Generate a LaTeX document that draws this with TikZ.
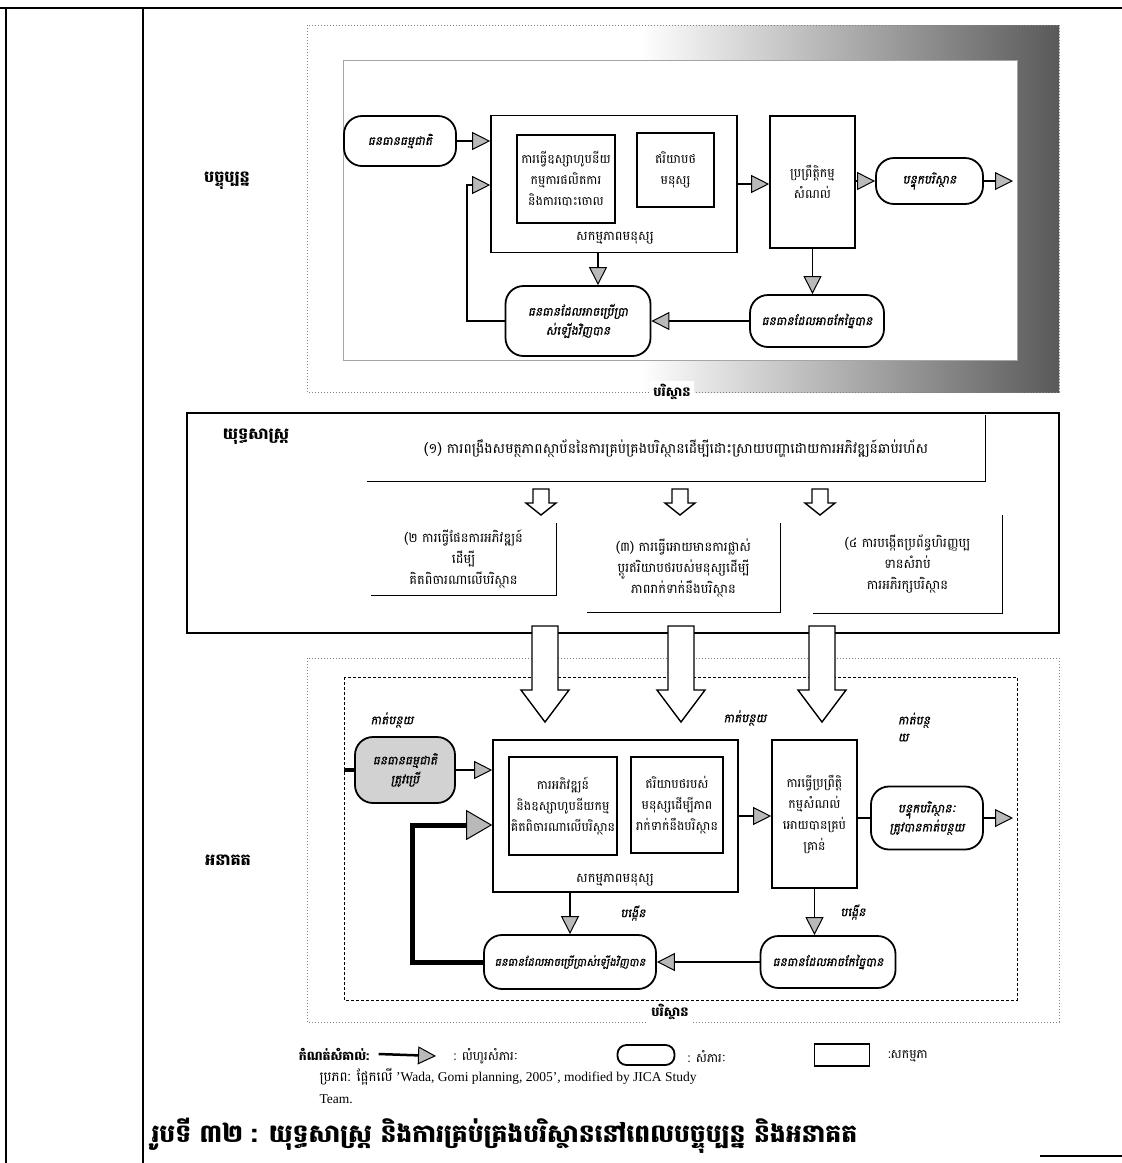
\documentclass[tikz,border=0pt]{standalone}
\usepackage{fontspec}
\setmainfont{Liberation Serif}
\newfontfamily\km[Script=Khmer]{Battambang}
\newfontfamily\kmsl[Script=Khmer,FakeSlant=0.2,FakeBold=0.8]{Battambang}
\usetikzlibrary{arrows.meta, positioning}

\tikzset{
  box/.style={draw, line width=1.6pt, inner sep=2pt, align=center, font=\km\fontsize{12.5}{21}\selectfont},
  res/.style={draw, line width=1.8pt, rounded corners=18pt, inner sep=2pt, align=center, font=\kmsl\fontsize{12}{19}\selectfont},
  flow/.style={line width=1.8pt, -{Triangle[fill=gray!55, length=18pt, width=18pt, line width=1pt]}},
  fbflow/.style={line width=5pt, -{Triangle[fill=gray!55, length=26pt, width=30pt, line width=1pt]}},
  hollowline/.style={line width=1.4pt, fill=white, line join=miter},
  lbl/.style={font=\km\bfseries\fontsize{16}{19}\selectfont},
  tag/.style={font=\kmsl\fontsize{12}{17}\selectfont, align=left},
  envlbl/.style={fill=white, inner sep=3pt, font=\km\bfseries\fontsize{13}{16}\selectfont},
  txt/.style={font=\km\fontsize{13}{21}\selectfont, align=center}
}
% x, top, bottom, half shaft, half head, head length
\newcommand{\blockdown}[6]{%
  \draw[hollowline] (#1-#4,#2) -- (#1-#4,#3-#6) -- (#1-#5,#3-#6) -- (#1,#3)
    -- (#1+#5,#3-#6) -- (#1+#4,#3-#6) -- (#1+#4,#2) -- cycle;}

\begin{document}
\begin{tikzpicture}[x=1pt, y=-1pt]
  \useasboundingbox (0,0) rectangle (1122,1163);
  \draw[line width=1.5pt] (0,8) -- (1122,8);
  \draw[line width=2pt] (6,8) -- (6,1163);
  \draw[line width=2pt] (143,8) -- (143,1163);
  \draw[line width=1.2pt] (1040,1156) -- (1122,1156);

  \node[lbl] (present) at (227,181) {បច្ចុប្បន្ន};
  \node[lbl] (strategy) at (256,437) {យុទ្ធសាស្ត្រ};
  \node[lbl] (future) at (228,860) {អនាគត};

  \foreach \a/\b in {{307,25}/{1059,60}, {307,360}/{1059,392}, {1017,25}/{1059,392}} {
    \begin{scope}
      \clip (\a) rectangle (\b);
      \shade[left color=white, right color=black!65] (640,25) rectangle (1059,392);
    \end{scope}
  }
  \draw[gray, dotted, line width=1pt] (307,25) rectangle (1059,392);
  \draw[gray!70, line width=0.8pt] (343,60) rectangle (1017,360);

  \node[res, minimum width=112, minimum height=50] (nat) at (400,141) {ធនធានធម្មជាតិ};
  \node[box, minimum width=246, minimum height=137] (act) at (614,184) {};
  \node[box, minimum width=98, minimum height=88] (mfg) at (566,179) {ការធ្វើឧស្សាហូបនីយ\\កម្មការផលិតការ\\និងការបោះចោល};
  \node[box, minimum width=77, minimum height=74] (hab) at (675.5,170) {ឥរិយាបថ\\មនុស្ស};
  \node[txt] (actlbl) at (615,238) {សកម្មភាពមនុស្ស};
  \node[box, minimum width=85, minimum height=132] (trt) at (812.5,182) {ប្រព្រឹត្តិកម្ម\\សំណល់};
  \node[res, minimum width=107, minimum height=46] (load) at (929.5,181) {បន្ទុកបរិស្ថាន};
  \coordinate (exit) at (1013,181);
  \node[res, minimum width=145, minimum height=70] (reuse) at (578,321) {ធនធានដែលអាចប្រើប្រា\\ស់ឡើងវិញបាន};
  \node[res, minimum width=134, minimum height=52] (recy) at (817,321) {ធនធានដែលអាចកែច្នៃបាន};
  \node[envlbl] (env) at (672,392) {បរិស្ថាន};
  \coordinate (loop) at (467,185);
  \coordinate (rin) at ([xshift=20pt]reuse.north);

  \draw[flow] (nat.east) -- (nat.east -| act.west);
  \draw[flow] (act.east) -- (act.east -| trt.west);
  \draw[flow] (trt.east |- load.west) -- (load.west);
  \draw[flow] (load.east) -- (exit);
  \draw[flow] (rin |- act.south) -- (rin);
  \draw[flow] (trt.south) -- (trt.south |- recy.north);
  \draw[flow] (recy.west) -- (reuse.east);
  \draw[flow] (reuse.west) -| (loop) -- (loop -| act.west);

  \draw[line width=1.6pt] (187,413) rectangle (1059,633);
  \node[txt, minimum width=618, minimum height=66, font=\km\fontsize{14}{21}\selectfont] (aim1) at (676,448) {(១) ការពង្រឹងសមត្ថភាពស្ថាប័ននៃការគ្រប់គ្រងបរិស្ថានដើម្បីដោះស្រាយបញ្ហាដោយការអភិវឌ្ឍន៍ឆាប់រហ័ស};
  \node[txt, minimum width=185, minimum height=72] (aim2) at (463.5,559) {(២ ការធ្វើផែនការអភិវឌ្ឍន៍\\ដើម្បី\\គិតពិចារណាលើបរិស្ថាន};
  \node[txt, minimum width=193, minimum height=89] (aim3) at (683.5,567.5) {(៣) ការធ្វើអោយមានការផ្លាស់\\ប្តូរឥរិយាបថរបស់មនុស្សដើម្បី\\ភាពរាក់ទាក់នឹងបរិស្ថាន};
  \node[txt, minimum width=189, minimum height=98] (aim4) at (907.5,564) {(៤ ការបង្កើតប្រព័ន្ធហិរញ្ញប្ប\\ទានសំរាប់\\ការអភិរក្សបរិស្ថាន};
  \foreach \n in {aim1, aim2, aim3, aim4}
    \draw[line width=1.4pt] (\n.south west) -- (\n.south east) -- (\n.north east);
  \foreach \x in {541, 680, 820} {
    \blockdown{\x}{489}{515}{8}{15}{12}
  }

  \draw[gray, dotted, line width=1pt] (307,658) rectangle (1059,1022);
  \draw[densely dashed, line width=0.7pt] (344,677) rectangle (1017,1000);

  \foreach \x in {545, 681, 822} {
    \blockdown{\x}{626}{722}{13}{24}{32}
  }

  \node[tag] (cut1) at (392,720) {កាត់បន្ថយ};
  \node[tag] (cut2) at (745,718) {កាត់បន្ថយ};
  \node[tag] (cut3) at (914,727) {កាត់បន្ថ\\យ};
  \node[res, fill=gray!35, minimum width=100, minimum height=66] (nat2) at (405,770) {ធនធានធម្មជាតិ\\ត្រូវប្រើ};
  \coordinate (inlet) at (344,770);
  \node[box, minimum width=245, minimum height=152] (act2) at (615.5,816) {};
  \node[box, minimum width=108, minimum height=98] (dev) at (563,806) {ការអភិវឌ្ឍន៍\\និងឧស្សាហូបនីយកម្ម\\គិតពិចារណាលើបរិស្ថាន};
  \node[box, minimum width=92, minimum height=96] (hab2) at (677,805) {ឥរិយាបថរបស់\\មនុស្សដើម្បីភាព\\រាក់ទាក់នឹងបរិស្ថាន};
  \node[txt] (actlbl2) at (615,880) {សកម្មភាពមនុស្ស};
  \node[box, minimum width=85, minimum height=148] (trt2) at (814.5,814) {ការធ្វើប្រព្រឹត្តិ\\កម្មសំណល់\\អោយបានគ្រប់\\គ្រាន់};
  \node[res, minimum width=112, minimum height=63] (load2) at (927,818) {បន្ទុកបរិស្ថានៈ\\ត្រូវបានកាត់បន្ថយ};
  \coordinate (exit2) at (1013,818);
  \node[tag] (inc1) at (633,913) {បង្កើន};
  \node[tag] (inc2) at (853,912) {បង្កើន};
  \node[res, minimum width=172, minimum height=54, font=\kmsl\fontsize{11}{19}\selectfont] (reuse2) at (570,962) {ធនធានដែលអាចប្រើប្រាស់ឡើងវិញបាន};
  \node[res, minimum width=135, minimum height=52] (recy2) at (828,962) {ធនធានដែលអាចកែច្នៃបាន};
  \node[envlbl] (env2) at (670,1012) {បរិស្ថាន};
  \coordinate (loop2) at (412,825);

  \draw[line width=4pt] (inlet) -- (nat2.west);
  \draw[flow] (nat2.east) -- (nat2.east -| act2.west);
  \draw[flow] (act2.east) -- (act2.east -| trt2.west);
  \draw[line width=2pt] (trt2.east |- load2.west) -- (load2.west);
  \draw[flow] (load2.east) -- (exit2);
  \draw[flow] (act2.south -| reuse2.north) -- (reuse2.north);
  \draw[flow] (trt2.south) -- (trt2.south |- recy2.north);
  \draw[flow] (recy2.west) -- (reuse2.east);
  \draw[fbflow] (reuse2.west) -| (loop2) -- (loop2 -| act2.west);

  \node[font=\km\bfseries\fontsize{12.5}{14}\selectfont] (key) at (334,1054) {កំណត់សំគាល់:};
  \node[font=\km\fontsize{12.5}{14}\selectfont] (kflow) at (486,1056) {: លំហូរសំភារៈ};
  \draw[flow, line width=2.5pt] ([xshift=6pt]key.east) -- ([xshift=-14pt]kflow.west);
  \node[res, minimum width=57, minimum height=20, rounded corners=9pt] (kres) at (646,1055) {};
  \node[font=\km\fontsize{12.5}{14}\selectfont] (kreslbl) at (707,1056) {: សំភារៈ};
  \node[box, minimum width=55, minimum height=22] (kact) at (842,1055) {};
  \node[font=\km\fontsize{12.5}{14}\selectfont] (kactlbl) at (908,1056) {:សកម្មភា};

  \node[anchor=west, font=\fontsize{13.5}{15}\selectfont] (cite) at (316,1077) {{\km ប្រភព: ផ្អែកលើ} 'Wada, Gomi planning, 2005', modified by JICA Study};
  \node[anchor=west, font=\fontsize{13.5}{15}\selectfont] (team) at (316,1099) {Team.};
  \node[anchor=west, font=\km\bfseries\fontsize{25}{29}\selectfont] (cap) at (148,1136) {រូបទី ៣២ : យុទ្ធសាស្ត្រ និងការគ្រប់គ្រងបរិស្ថាននៅពេលបច្ចុប្បន្ន និងអនាគត};
\end{tikzpicture}
\end{document}
